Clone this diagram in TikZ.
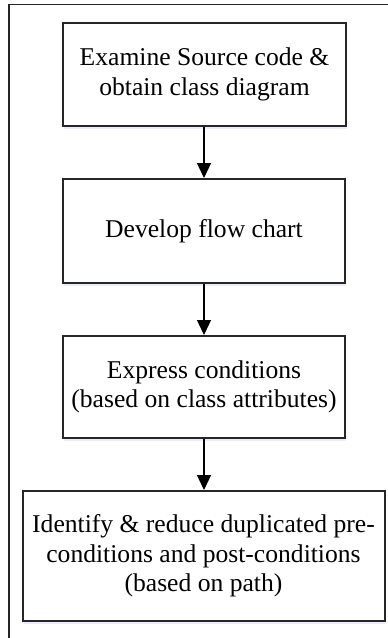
\documentclass[tikz,border=0pt]{standalone}
\usepackage{fontspec}
\setmainfont{Liberation Serif}
\usetikzlibrary{arrows.meta,shadows}
\begin{document}
\begin{tikzpicture}[x=1pt,y=-1pt,
  stepbox/.style={draw=black!85, line width=2pt, fill=white, align=center,
    inner sep=0pt, font=\fontsize{25.6}{29.5}\selectfont,
    drop shadow={shadow xshift=1pt, shadow yshift=-3pt, fill=blue!30, opacity=0.25}},
  flow/.style={line width=1.3pt, -{Triangle[width=14pt,length=15pt]}},
  frame/.style={line width=1.3pt, draw=black!85}]
\useasboundingbox (0,0) rectangle (388,638);
\draw[frame] (9,640) -- (9,4.5) -- (390,4.5);
\node[stepbox, minimum width=283pt, minimum height=103pt] (a) at (204.5,74.5)
  {Examine Source code \&\\obtain class diagram};
\node[stepbox, minimum width=282pt, minimum height=104pt] (b) at (204,231)
  {Develop flow chart};
\node[stepbox, minimum width=282pt, minimum height=102pt] (c) at (204,387)
  {Express conditions\\(based on class attributes)};
\node[stepbox, minimum width=362pt, minimum height=130pt] (d) at (203.5,556)
  {Identify \& reduce duplicated pre-\\conditions and post-conditions\\(based on path)};
\draw[flow] (a.south -| 204,0) -- (b.north -| 204,0);
\draw[flow] (b.south -| 204,0) -- (c.north -| 204,0);
\draw[flow] (c.south -| 204,0) -- (d.north -| 204,0);
\end{tikzpicture}
\end{document}
